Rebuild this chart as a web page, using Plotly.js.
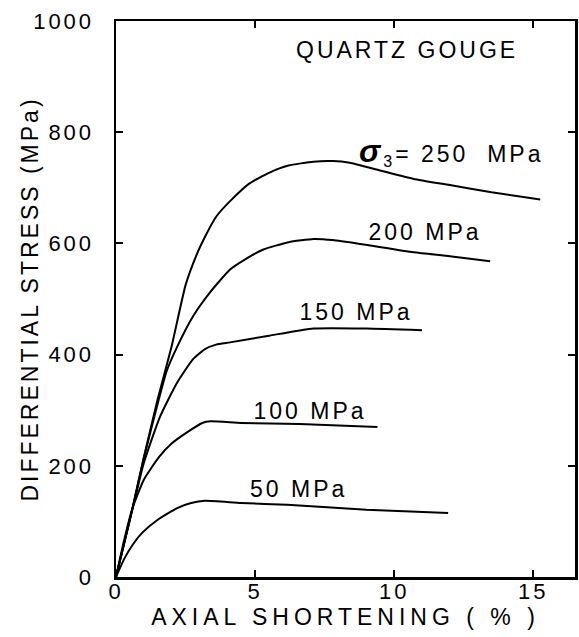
<!DOCTYPE html>
<html>
<head>
<meta charset="utf-8">
<script src="https://cdn.plot.ly/plotly-3.0.1.min.js"></script>
<style>
  html, body { margin: 0; padding: 0; background: #fff; }
  #chart { width: 579px; height: 637px; }
  .main-svg .xtick text, .main-svg .ytick text { letter-spacing: 3px; }
  .main-svg .annotation-text { letter-spacing: 3px; }
  .main-svg .xtitle { letter-spacing: 5px; }
  .main-svg .ytitle { letter-spacing: 3px; }
</style>
</head>
<body>
<div id="chart"></div>
<script>
// Axial shortening (%) and differential stress (MPa)
const x250 = [0, 0.6, 1.0, 1.5, 2.0, 2.5, 2.9, 3.2, 3.6, 4.1, 4.8, 5.5, 6.2, 7.1, 7.8, 8.4, 9.5, 10.7, 12.0, 13.5, 15.25];
const y250 = [0, 125, 215, 320, 415, 525, 580, 612, 648, 676, 708, 727, 740, 747, 748, 745, 731, 716, 705, 692, 679];

const x200 = [0, 0.6, 1.0, 1.5, 1.82, 2.18, 2.77, 3.38, 4.1, 4.6, 5.3, 6.2, 7.1, 7.8, 8.9, 10.7, 12.0, 13.45];
const y200 = [0, 125, 214, 312, 370, 412, 469, 512, 553, 570, 589, 602, 608, 606, 598, 584, 577, 568];

const x150 = [0, 0.6, 1.0, 1.58, 2.19, 2.77, 3.2, 3.6, 4.1, 5.5, 7.1, 9.0, 11.0];
const y150 = [0, 124, 205, 288, 349, 392, 410, 418, 422, 434, 447, 447, 444];

const x100 = [0, 0.3, 0.6, 1.0, 1.55, 2.0, 2.55, 3.1, 3.4, 4.5, 6.6, 9.4];
const y100 = [0, 68, 125, 175, 216, 240, 260, 277, 280, 277, 275, 270];

const x50 = [0, 0.3, 0.6, 0.93, 1.5, 2.2, 2.7, 3.2, 4.5, 6.15, 9.0, 11.94];
const y50 = [0, 33, 58, 79, 103, 124, 133, 137, 133, 130, 121, 115];

const seriesNames = ["250 MPa", "200 MPa", "150 MPa", "100 MPa", "50 MPa"];
const labelText = ["<span style='font-size:32px'><b><i>σ</i></b></span><sub>3</sub>= 250  MPa", "200 MPa", "150 MPa", "100 MPa", "50 MPa"];
const labelX = [9.32, 9.39, 6.9, 5.25, 5.07];
const labelY = [766, 620, 477, 299, 158];

const xTicks = [0, 5, 10, 15];
const yTicks = [0, 200, 400, 600, 800, 1000];

const FONT = "'Liberation Sans', Arial, Helvetica, sans-serif";
const xs = [x250, x200, x150, x100, x50];
const ys = [y250, y200, y150, y100, y50];

const traces = xs.map((x, i) => ({
  x: x, y: ys[i], name: seriesNames[i], type: 'scatter', mode: 'lines',
  line: { color: '#000', width: 2, shape: 'spline', smoothing: 0.5 },
  showlegend: false, hoverinfo: 'skip'
}));

const annotations = labelText.map((t, i) => ({
  x: labelX[i], y: labelY[i], xref: 'x', yref: 'y', text: t,
  showarrow: false, xanchor: 'left', yanchor: 'middle',
  font: { family: FONT, size: 23, color: '#000' }
}));
annotations.push({
  x: 7.05, y: 948, xref: 'x', yref: 'y', text: 'QUARTZ GOUGE',
  showarrow: false, xanchor: 'left', yanchor: 'middle',
  font: { family: FONT, size: 23, color: '#000' }
});

const layout = {
  width: 579, height: 637,
  margin: { l: 116, r: 4, t: 21, b: 60, pad: 0 },
  paper_bgcolor: '#fff', plot_bgcolor: '#fff',
  font: { family: FONT, color: '#000' },
  xaxis: {
    range: [0, 16.5], tickvals: xTicks, ticktext: xTicks.map(String),
    ticks: 'inside', ticklen: 7, tickwidth: 2, tickcolor: '#000',
    showline: true, linecolor: '#000', linewidth: 2.5, mirror: 'ticks',
    showgrid: false, zeroline: false, ticklabelstandoff: -7,
    tickfont: { family: FONT, size: 22, color: '#000' },
    title: { text: 'AXIAL SHORTENING ( % )', font: { family: FONT, size: 23, color: '#000' }, standoff: 0 }
  },
  yaxis: {
    range: [0, 1000], tickvals: yTicks, ticktext: yTicks.map(String),
    ticks: 'inside', ticklen: 7, tickwidth: 2, tickcolor: '#000',
    showline: true, linecolor: '#000', linewidth: 2.5, mirror: 'ticks',
    showgrid: false, zeroline: false, ticklabelstandoff: 15,
    tickfont: { family: FONT, size: 22, color: '#000' },
    title: { text: 'DIFFERENTIAL STRESS (MPa)', font: { family: FONT, size: 23, color: '#000' }, standoff: 0 }
  },
  annotations: annotations
};

Plotly.newPlot('chart', traces, layout, { staticPlot: true, displayModeBar: false });
</script>
</body>
</html>
